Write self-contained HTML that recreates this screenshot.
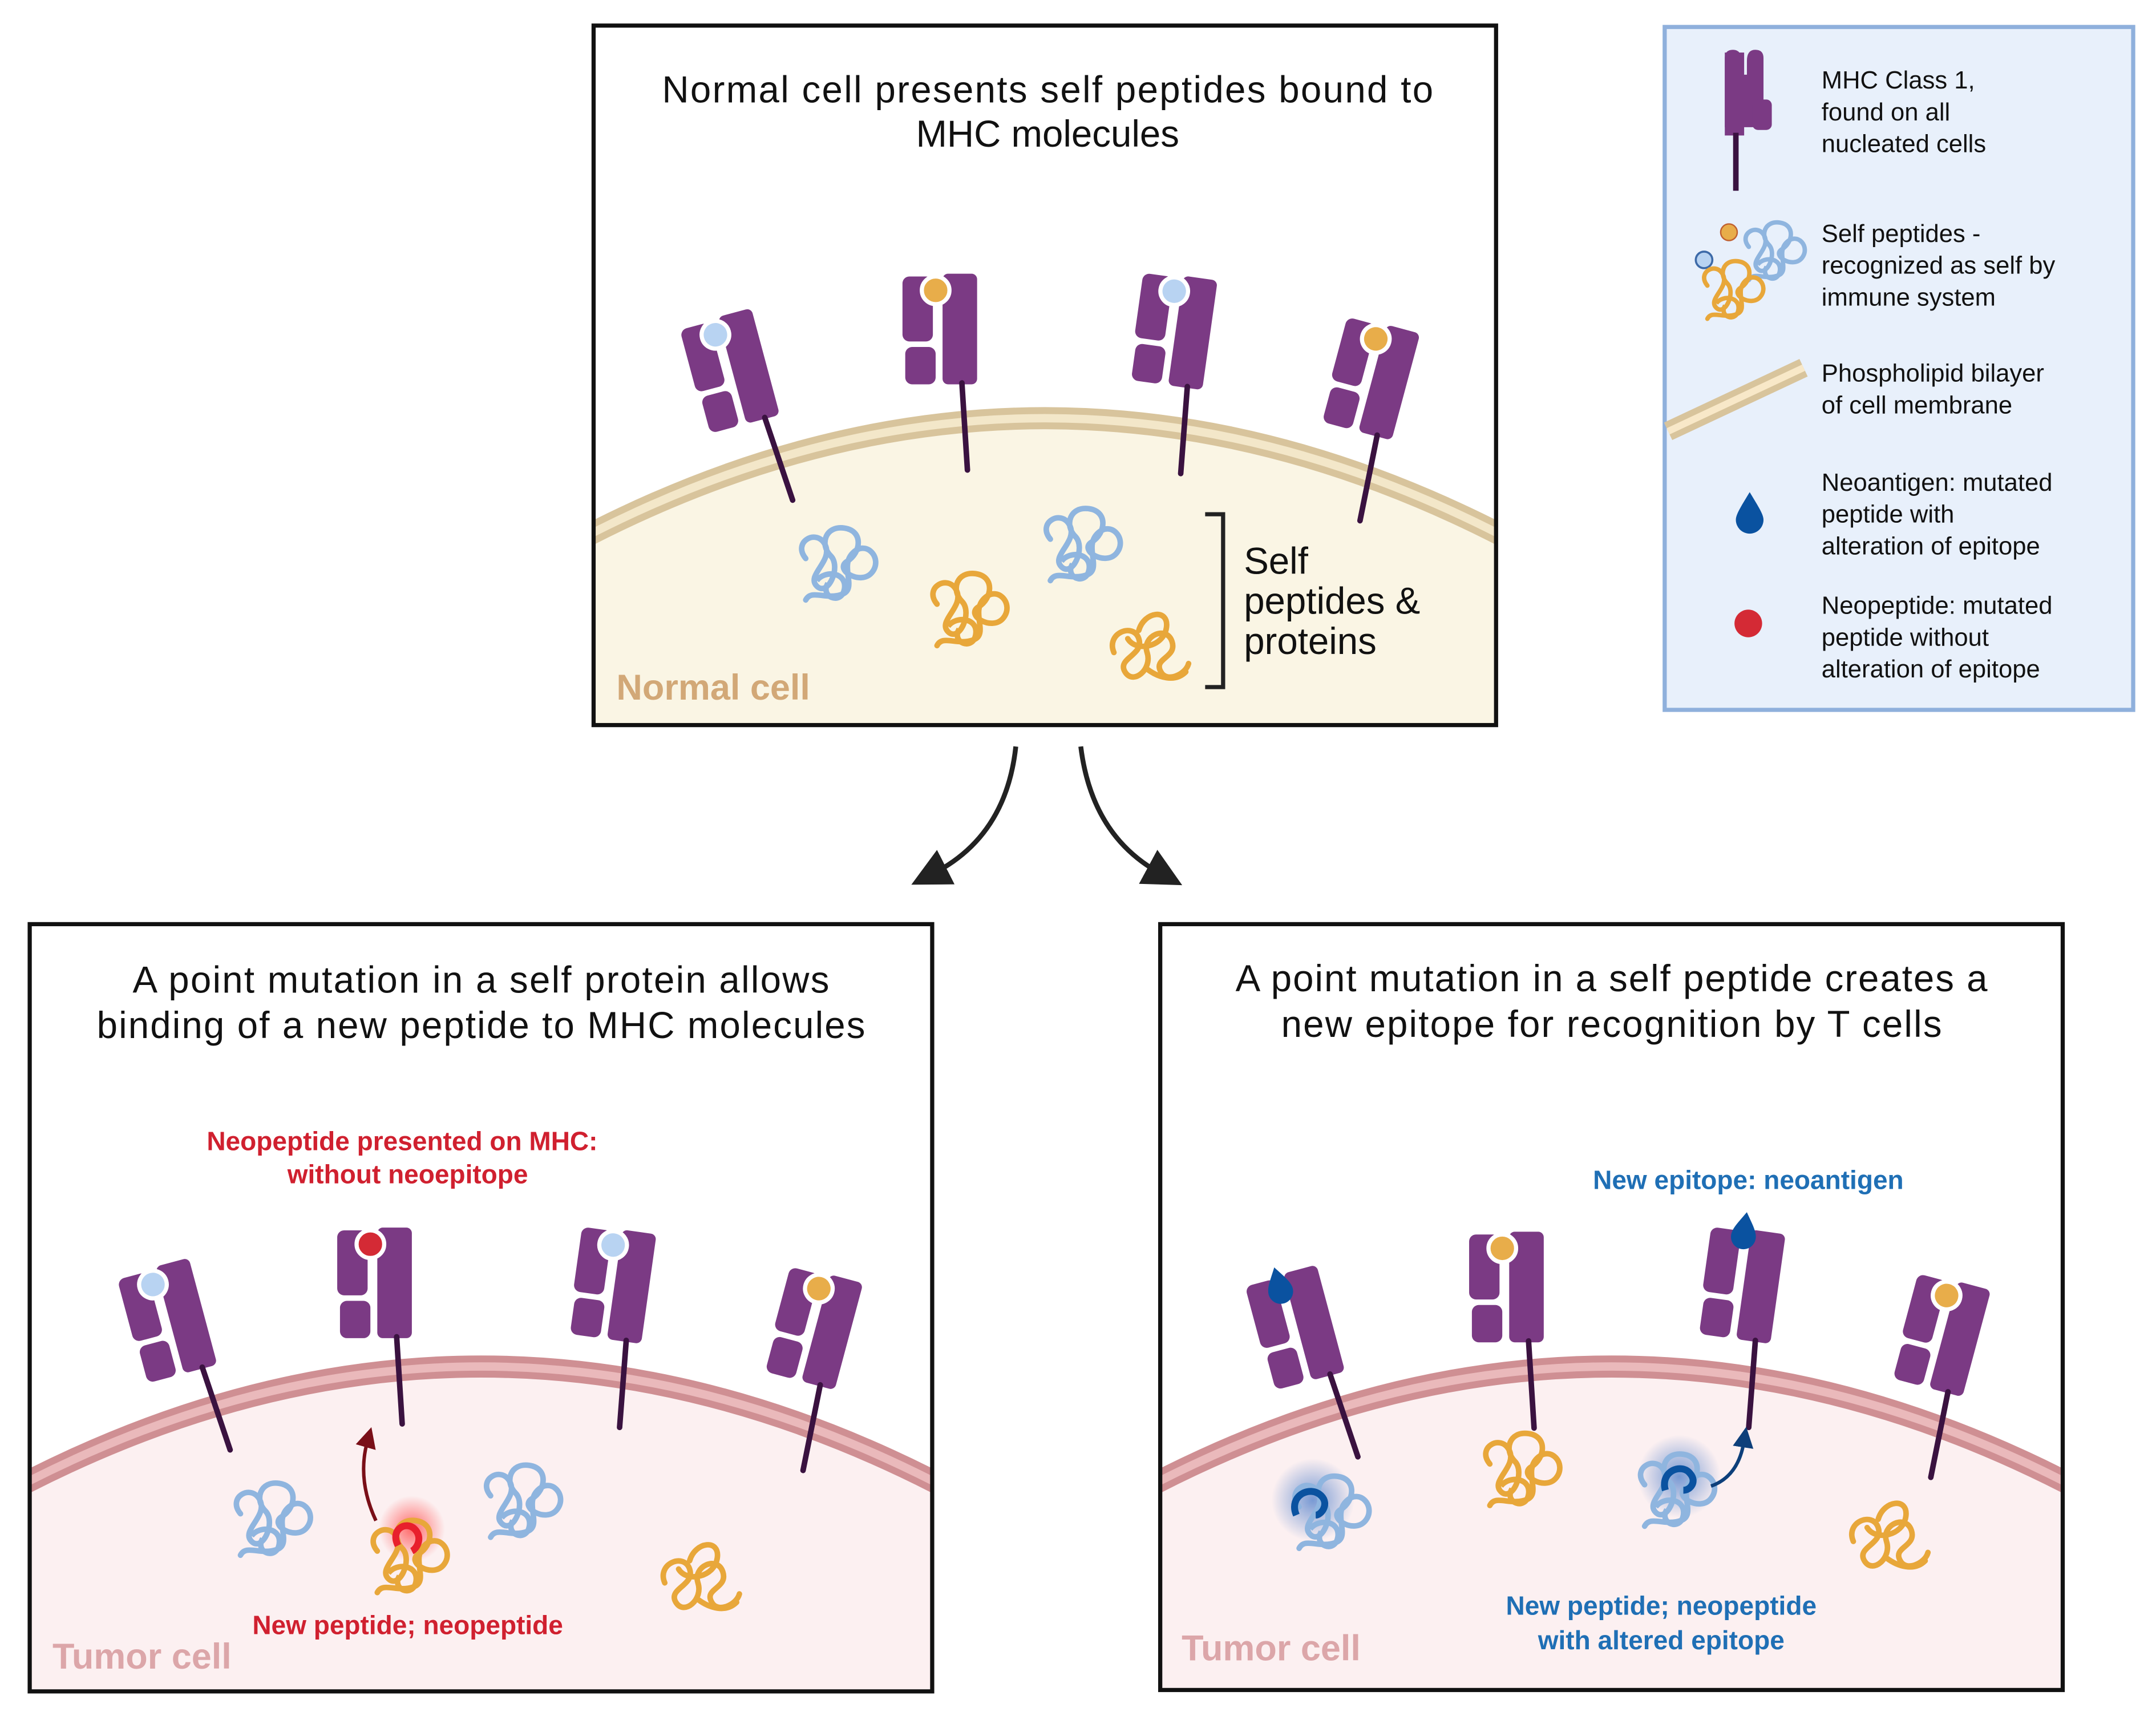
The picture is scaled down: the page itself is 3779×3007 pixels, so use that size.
<!DOCTYPE html>
<html><head><meta charset="utf-8"><style>
html,body{margin:0;padding:0;background:#fff;}
svg{display:block;}
text{font-family:"Liberation Sans",sans-serif;}
</style></head><body>
<svg width="3779" height="3007" viewBox="0 0 1560 1241.3" xmlns="http://www.w3.org/2000/svg">
<defs>
<g id="mhc">
  <rect x="-26" y="0" width="22" height="47" rx="5" fill="#7b3a84"/>
  <rect x="3" y="-2" width="25" height="80" rx="4" fill="#7b3a84"/>
  <rect x="-24" y="51" width="22" height="27" rx="5" fill="#7b3a84"/>
  <line x1="17" y1="77" x2="21" y2="140" stroke="#3a1240" stroke-width="4" stroke-linecap="round"/>
</g>
<g id="blob">
  <path d="M-22,-8 c-10,-12 8,-22 14,-10 c6,12 -14,22 -6,30 c8,8 18,-14 10,-22 c-8,-8 -4,-22 10,-20 c14,2 12,18 2,24 c-10,6 10,18 18,8 c8,-10 -4,-24 -14,-14 c-10,10 4,26 -8,30 c-12,4 -22,-4 -26,4" fill="none" stroke-width="4" stroke-linecap="round"/>
  <path d="M-14,8 c6,-8 22,-6 20,6 c-2,12 -18,6 -12,-4" fill="none" stroke-width="4"/>
</g>
<g id="blob2">
  <path d="M-24,10 c-6,-14 14,-22 18,-10 c4,12 -16,14 -10,24 c6,10 20,-2 16,-14 c-4,-12 14,-20 18,-8 c4,12 -14,12 -8,22 c4,8 18,2 20,-6 M-6,-6 c4,-14 22,-16 20,-2 c-2,14 -22,18 -28,8 M0,22 c8,6 20,10 28,2" fill="none" stroke-width="4" stroke-linecap="round"/>
</g>
<radialGradient id="rg"><stop offset="0" stop-color="#ff3030" stop-opacity="0.7"/><stop offset="1" stop-color="#ff3030" stop-opacity="0"/></radialGradient>
<radialGradient id="bg"><stop offset="0" stop-color="#2060c0" stop-opacity="0.6"/><stop offset="1" stop-color="#2060c0" stop-opacity="0"/></radialGradient>
<marker id="ah" markerWidth="8" markerHeight="8" refX="3" refY="4" orient="auto" markerUnits="strokeWidth"><path d="M0,0 L8,4 L0,8 Z" fill="#222"/></marker>
<marker id="ahr" markerWidth="6" markerHeight="6" refX="2" refY="3" orient="auto" markerUnits="strokeWidth"><path d="M0,0 L6,3 L0,6 Z" fill="#7a0f18"/></marker>
<marker id="ahb" markerWidth="6" markerHeight="6" refX="2" refY="3" orient="auto" markerUnits="strokeWidth"><path d="M0,0 L6,3 L0,6 Z" fill="#0d3f7a"/></marker>
<clipPath id="c1"><rect x="430" y="19" width="652" height="505"/></clipPath>
<clipPath id="c2"><rect x="22" y="669" width="652" height="554"/></clipPath>
<clipPath id="c3"><rect x="840" y="669" width="652" height="553"/></clipPath>
</defs>

<!-- TOP BOX -->
<g clip-path="url(#c1)">
<rect x="428" y="17" width="656" height="509" fill="#fff"/>
<path d="M420,395 Q756,220 1092,395 L1092,530 L420,530 Z" fill="#faf5e4"/>
<path d="M420,390 Q756,215 1092,390" fill="none" stroke="#d8c49c" stroke-width="16"/>
<path d="M420,390 Q756,215 1092,390" fill="none" stroke="#f3e7c9" stroke-width="6"/>
</g>
<rect x="429.5" y="18.5" width="653" height="506" fill="none" stroke="#111" stroke-width="3"/>
<text x="758" y="74" font-size="27" text-anchor="middle" textLength="558" fill="#111">Normal cell presents self peptides bound to</text>
<text x="758" y="106" font-size="27" text-anchor="middle" fill="#111">MHC molecules</text>
<g transform="translate(517,232) rotate(-15)"><use href="#mhc"/><circle cx="-2" cy="10" r="10" fill="#b8d3f2" stroke="#fff" stroke-width="3"/></g>
<g transform="translate(679,200)"><use href="#mhc"/><circle cx="-2" cy="10" r="10" fill="#e8ad4a" stroke="#fff" stroke-width="3"/></g>
<g transform="translate(853,201) rotate(8)"><use href="#mhc"/><circle cx="-2" cy="10" r="10" fill="#b8d3f2" stroke="#fff" stroke-width="3"/></g>
<g transform="translate(1000,236) rotate(15)"><use href="#mhc"/><circle cx="-2" cy="10" r="10" fill="#e8ad4a" stroke="#fff" stroke-width="3"/></g>
<use href="#blob" transform="translate(605,412)" stroke="#8fb5df"/>
<use href="#blob" transform="translate(700,445)" stroke="#e8a73a"/>
<use href="#blob" transform="translate(782,398)" stroke="#8fb5df"/>
<use href="#blob2" transform="translate(830,462)" stroke="#e8a73a"/>
<path d="M872,372 H885 V497 H872" fill="none" stroke="#222" stroke-width="3"/>
<text x="900" y="415" font-size="27" fill="#111">Self</text>
<text x="900" y="444" font-size="27" fill="#111">peptides &amp;</text>
<text x="900" y="473" font-size="27" fill="#111">proteins</text>
<text x="446" y="506" font-size="26" font-weight="bold" fill="#d2a877">Normal cell</text>

<!-- ARROWS -->
<path d="M735,540 Q728,605 675,632" fill="none" stroke="#222" stroke-width="3.5" marker-end="url(#ah)"/>
<path d="M782,540 Q790,605 840,632" fill="none" stroke="#222" stroke-width="3.5" marker-end="url(#ah)"/>

<!-- LEGEND -->
<rect x="1204.5" y="19.5" width="339" height="494" fill="#e8f0fb" stroke="#8fb0dc" stroke-width="3"/>
<g transform="translate(1268,38)">
  <path d="M-20,4 q0,-6 6,-6 q6,0 6,8 v10 h4 v-10 q0,-8 6,-8 q6,0 6,6 v50 h-28 Z" fill="#7b3a84"/>
  <rect x="-20" y="0" width="14" height="60" fill="#7b3a84"/>
  <rect x="0" y="34" width="14" height="22" rx="4" fill="#7b3a84"/>
  <line x1="-12" y1="58" x2="-12" y2="100" stroke="#3a1240" stroke-width="4"/>
</g>
<g font-size="18" fill="#111">
<text x="1318" y="64">MHC Class 1,</text><text x="1318" y="87">found on all</text><text x="1318" y="110">nucleated cells</text>
<text x="1318" y="175">Self peptides -</text><text x="1318" y="198">recognized as self by</text><text x="1318" y="221">immune system</text>
<text x="1318" y="276">Phospholipid bilayer</text><text x="1318" y="299">of cell membrane</text>
<text x="1318" y="355">Neoantigen: mutated</text><text x="1318" y="378">peptide with</text><text x="1318" y="401">alteration of epitope</text>
<text x="1318" y="444">Neopeptide: mutated</text><text x="1318" y="467">peptide without</text><text x="1318" y="490">alteration of epitope</text>
</g>
<circle cx="1251" cy="168" r="6" fill="#e8ad4a" stroke="#c06030" stroke-width="1"/>
<circle cx="1233" cy="188" r="6" fill="#b8d3f2" stroke="#3d6aa8" stroke-width="1.5"/>
<use href="#blob" transform="translate(1283,185) scale(0.8)" stroke="#8fb5df"/>
<use href="#blob" transform="translate(1253,213) scale(0.8)" stroke="#e8a73a"/>
<path d="M1207,312 L1305,266" stroke="#d8c49c" stroke-width="14"/>
<path d="M1207,312 L1305,266" stroke="#f8e8c8" stroke-width="5"/>
<path d="M1266,356 C1260,366 1256,372 1256,376 a10,10 0 0 0 20,0 C1276,372 1272,366 1266,356 Z" fill="#0a52a0"/>
<circle cx="1265" cy="451" r="10" fill="#d42a35"/>

<!-- BOTTOM LEFT -->
<g clip-path="url(#c2)">
<rect x="20" y="667" width="656" height="558" fill="#fff"/>
<path d="M10,1082 Q348,905 686,1082 L686,1230 L10,1230 Z" fill="#fcf0f1"/>
<path d="M10,1077 Q348,900 686,1077" fill="none" stroke="#cf8f93" stroke-width="16"/>
<path d="M10,1077 Q348,900 686,1077" fill="none" stroke="#eab9bb" stroke-width="6"/>
</g>
<rect x="21.5" y="668.5" width="653" height="555" fill="none" stroke="#111" stroke-width="3"/>
<text x="348" y="718" font-size="27" text-anchor="middle" textLength="504" fill="#111">A point mutation in a self protein allows</text>
<text x="348" y="751" font-size="27" text-anchor="middle" textLength="556" fill="#111">binding of a new peptide to MHC molecules</text>
<text x="291" y="832" font-size="19" font-weight="bold" text-anchor="middle" fill="#d0202f">Neopeptide presented on MHC:</text>
<text x="295" y="856" font-size="19" font-weight="bold" text-anchor="middle" fill="#d0202f">without neoepitope</text>
<g transform="translate(110,919) rotate(-15)"><use href="#mhc"/><circle cx="-2" cy="10" r="10" fill="#b8d3f2" stroke="#fff" stroke-width="3"/></g>
<g transform="translate(270,890)"><use href="#mhc"/><circle cx="-2" cy="10" r="10" fill="#d42a35" stroke="#fff" stroke-width="3"/></g>
<g transform="translate(447,891) rotate(8)"><use href="#mhc"/><circle cx="-2" cy="10" r="10" fill="#b8d3f2" stroke="#fff" stroke-width="3"/></g>
<g transform="translate(597,923) rotate(15)"><use href="#mhc"/><circle cx="-2" cy="10" r="10" fill="#e8ad4a" stroke="#fff" stroke-width="3"/></g>
<use href="#blob" transform="translate(196,1103)" stroke="#8fb5df"/>
<circle cx="298" cy="1106" r="24" fill="url(#rg)"/>
<use href="#blob" transform="translate(295,1130)" stroke="#e8a73a"/>
<path d="M288,1118 c-6,-12 6,-18 12,-12 c6,6 2,14 -2,16" fill="none" stroke="#e8202c" stroke-width="5"/>
<use href="#blob" transform="translate(377,1090)" stroke="#8fb5df"/>
<use href="#blob2" transform="translate(505,1135)" stroke="#e8a73a"/>
<path d="M272,1100 Q258,1070 266,1042" fill="none" stroke="#7a0f18" stroke-width="2.5" marker-end="url(#ahr)"/>
<text x="295" y="1182" font-size="19" font-weight="bold" text-anchor="middle" fill="#d0202f">New peptide; neopeptide</text>
<text x="38" y="1207" font-size="26" font-weight="bold" fill="#dca6a9">Tumor cell</text>

<!-- BOTTOM RIGHT -->
<g clip-path="url(#c3)">
<rect x="838" y="667" width="656" height="558" fill="#fff"/>
<path d="M828,1082 Q1166,905 1504,1082 L1504,1230 L828,1230 Z" fill="#fcf0f1"/>
<path d="M828,1077 Q1166,900 1504,1077" fill="none" stroke="#cf8f93" stroke-width="16"/>
<path d="M828,1077 Q1166,900 1504,1077" fill="none" stroke="#eab9bb" stroke-width="6"/>
</g>
<rect x="839.5" y="668.5" width="653" height="554" fill="none" stroke="#111" stroke-width="3"/>
<text x="1166" y="717" font-size="27" text-anchor="middle" textLength="544" fill="#111">A point mutation in a self peptide creates a</text>
<text x="1166" y="750" font-size="27" text-anchor="middle" textLength="478" fill="#111">new epitope for recognition by T cells</text>
<text x="1265" y="860" font-size="19" font-weight="bold" text-anchor="middle" fill="#1f6fb5">New epitope: neoantigen</text>
<g transform="translate(926,924) rotate(-15)"><use href="#mhc"/><path d="M-2,-8 C-7,0 -11,5 -11,10 a9,9 0 0 0 18,0 C7,5 3,0 -2,-8 Z" fill="#0a52a0"/></g>
<g transform="translate(1089,893)"><use href="#mhc"/><circle cx="-2" cy="10" r="10" fill="#e8ad4a" stroke="#fff" stroke-width="3"/></g>
<g transform="translate(1264,891) rotate(8)"><use href="#mhc"/><path d="M-2,-14 C-7,-6 -11,-1 -11,4 a9,9 0 0 0 18,0 C7,-1 3,-6 -2,-14 Z" fill="#0a52a0"/></g>
<g transform="translate(1413,928) rotate(15)"><use href="#mhc"/><circle cx="-2" cy="10" r="10" fill="#e8ad4a" stroke="#fff" stroke-width="3"/></g>
<circle cx="950" cy="1085" r="30" fill="url(#bg)"/>
<use href="#blob" transform="translate(962,1098)" stroke="#8fb5df"/>
<path d="M938,1096 c-6,-14 10,-22 18,-14 c6,6 0,14 -4,14" fill="none" stroke="#0a52a0" stroke-width="5"/>
<use href="#blob" transform="translate(1100,1067)" stroke="#e8a73a"/>
<circle cx="1215" cy="1068" r="30" fill="url(#bg)"/>
<use href="#blob" transform="translate(1212,1082)" stroke="#8fb5df"/>
<path d="M1205,1078 c-4,-14 12,-20 18,-12 c5,6 0,12 -5,12" fill="none" stroke="#0a52a0" stroke-width="5"/>
<use href="#blob2" transform="translate(1365,1105)" stroke="#e8a73a"/>
<path d="M1238,1075 Q1258,1068 1262,1042" fill="none" stroke="#0d3f7a" stroke-width="2.5" marker-end="url(#ahb)"/>
<text x="1202" y="1168" font-size="19" font-weight="bold" text-anchor="middle" fill="#1f6fb5">New peptide; neopeptide</text>
<text x="1202" y="1193" font-size="19" font-weight="bold" text-anchor="middle" fill="#1f6fb5">with altered epitope</text>
<text x="855" y="1201" font-size="26" font-weight="bold" fill="#dca6a9">Tumor cell</text>
</svg>
</body></html>
